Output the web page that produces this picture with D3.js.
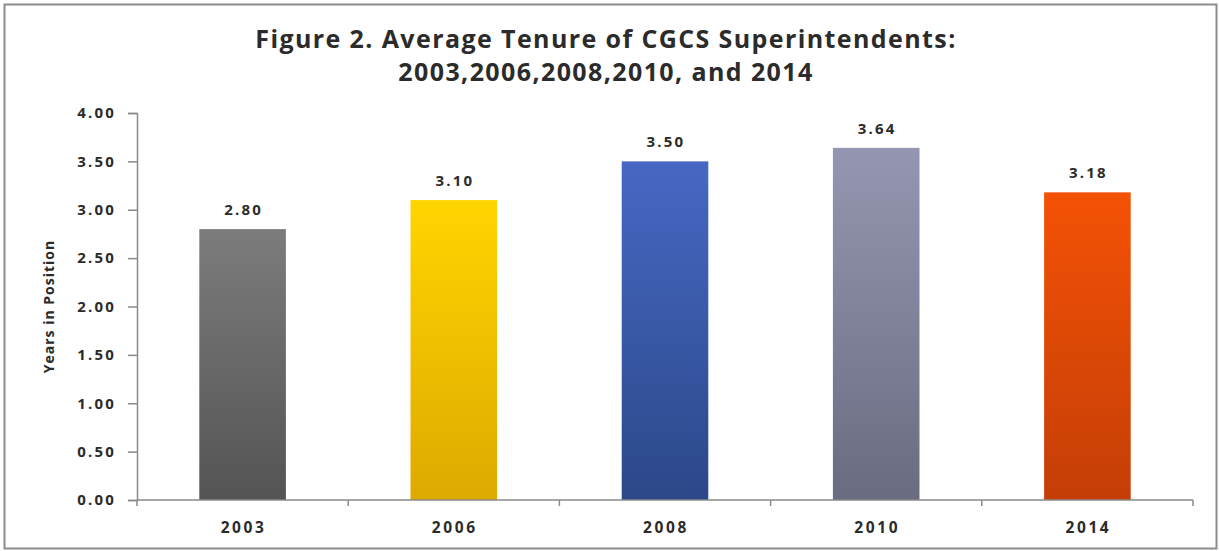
<!DOCTYPE html>
<html>
<head>
<meta charset="utf-8">
<script src="https://cdn.jsdelivr.net/npm/d3@7"></script>
<style>
    body { margin: 0; background: #fff; }
    text { font-family: "Open Sans", sans-serif; fill: #2b2b2b; font-weight: bold; }
</style>
</head>
<body>
<svg id="chart" width="1219" height="551"></svg>
<script>
const years = ['2003', '2006', '2008', '2010', '2014']
const tenure = [2.80, 3.10, 3.50, 3.64, 3.18]
const yTicks = [0, 0.5, 1, 1.5, 2, 2.5, 3, 3.5, 4]
const barColors = [
    ['#7c7c7c', '#545454'],
    ['#ffd500', '#dcaa00'],
    ['#4668c4', '#2c4888'],
    ['#9597b2', '#696c80'],
    ['#f45206', '#c43e06']
]
const titleLines = ['Figure 2. Average Tenure of CGCS Superintendents:', '2003,2006,2008,2010, and 2014']

const svg = d3.select('#chart')
const margin = { left: 137, right: 26, top: 113, bottom: 51 }
const width = 1219, height = 551

// outer frame
svg.append('rect')
    .attr('x', 4.5).attr('y', 4.5)
    .attr('width', 1212).attr('height', 544)
    .attr('fill', '#fff')
    .attr('stroke', '#8c8c8c')
    .attr('stroke-width', 2)

const x = d3.scaleBand()
    .domain(years)
    .range([margin.left, width - margin.right])
    .paddingInner(0.59)
    .paddingOuter(0.295)

const y = d3.scaleLinear()
    .domain([0, 4])
    .range([height - margin.bottom, margin.top])

// gradients
const defs = svg.append('defs')
barColors.forEach((c, i) => {
    const g = defs.append('linearGradient')
        .attr('id', 'grad-' + i)
        .attr('x1', 0).attr('y1', 0).attr('x2', 0).attr('y2', 1)
    g.append('stop').attr('offset', '0%').attr('stop-color', c[0])
    g.append('stop').attr('offset', '100%').attr('stop-color', c[1])
})

// title
svg.append('g').selectAll('text')
    .data(titleLines)
    .join('text')
    .attr('x', 606)
    .attr('y', (d, i) => 48 + i * 33)
    .attr('text-anchor', 'middle')
    .style('font-size', '25px')
    .style('letter-spacing', '1.4px')
    .text(d => d)

// bars
const data = years.map((yr, i) => ({ year: yr, value: tenure[i], i }))
svg.append('g').selectAll('rect')
    .data(data)
    .join('rect')
    .attr('x', d => x(d.year))
    .attr('y', d => y(d.value))
    .attr('width', x.bandwidth())
    .attr('height', d => y(0) - y(d.value))
    .attr('fill', d => `url(#grad-${d.i})`)

// value labels
svg.append('g').selectAll('text')
    .data(data)
    .join('text')
    .attr('x', d => x(d.year) + x.bandwidth() / 2 + 1)
    .attr('y', d => y(d.value) - 14)
    .attr('text-anchor', 'middle')
    .style('font-size', '15px')
    .style('letter-spacing', '2.2px')
    .text(d => d.value.toFixed(2))

// y axis
const yAxis = svg.append('g')
    .attr('transform', `translate(${margin.left},0)`)
    .call(d3.axisLeft(y).tickValues(yTicks).tickFormat(d3.format('.2f')).tickSize(9).tickPadding(12))
yAxis.select('.domain').attr('stroke', '#8a8a8a').attr('stroke-width', 1.5)
yAxis.selectAll('.tick line').attr('stroke', '#8a8a8a').attr('stroke-width', 1.5)
yAxis.selectAll('.tick text')
    .style('font-size', '15px')
    .style('letter-spacing', '2.2px')
    .style('font-family', '"Open Sans", sans-serif')
    .attr('fill', '#2b2b2b')

// x axis: ticks at band boundaries
const xAxisG = svg.append('g')
    .attr('transform', `translate(0,${y(0)})`)
xAxisG.append('line')
    .attr('x1', margin.left).attr('x2', width - margin.right)
    .attr('stroke', '#8a8a8a').attr('stroke-width', 1.5)
const step = x.step()
const boundaries = d3.range(years.length + 1).map(k => margin.left + k * step)
xAxisG.selectAll('line.tk')
    .data(boundaries)
    .join('line')
    .attr('class', 'tk')
    .attr('x1', d => d).attr('x2', d => d)
    .attr('y1', 0).attr('y2', 6)
    .attr('stroke', '#8a8a8a').attr('stroke-width', 1.5)
xAxisG.selectAll('text')
    .data(years)
    .join('text')
    .attr('x', d => x(d) + x.bandwidth() / 2 + 1)
    .attr('y', 33)
    .attr('text-anchor', 'middle')
    .style('font-size', '15.5px')
    .style('letter-spacing', '2.6px')
    .text(d => d)

// y axis title
svg.append('text')
    .attr('transform', `translate(54,${(y(0) + y(4)) / 2}) rotate(-90)`)
    .attr('text-anchor', 'middle')
    .style('font-size', '14px')
    .style('letter-spacing', '1px')
    .text('Years in Position')
</script>
</body>
</html>
